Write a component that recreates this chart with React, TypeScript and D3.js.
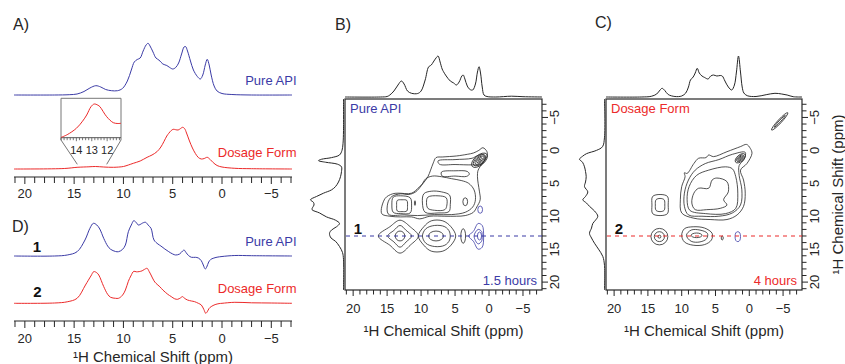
import React from "react";
import * as d3 from "d3";

type P = [number, number];
type Ell = { x: number; y: number; rx: number; ry: number; rot: number };

// ---------- tick labels ----------
const shiftMajor = [20, 15, 10, 5, 0, -5];
const shiftMinor = [21, 20, 19, 18, 17, 16, 15, 14, 13, 12, 11, 10, 9, 8, 7, 6, 5, 4, 3, 2, 1, 0, -1, -2, -3, -4, -5, -6, -7];
const insetMajor = [14, 13, 12];
const insetMinor = [15, 14.8, 14.6, 14.4, 14.2, 14, 13.8, 13.6, 13.4, 13.2, 13, 12.8, 12.6, 12.4, 12.2, 12, 11.8, 11.6, 11.4, 11.2];

// ---------- Panel A: 1D 1H spectra [ppm, intensity] ----------
const apiA: P[] = [[21.1,0],[17,0],[15.5,0.3],[14.7,1],[14.0,3.5],[13.4,7],[12.8,9.3],[12.3,8],[11.8,5.5],[11.2,4.3],[10.6,4.3],[10.1,6.5],[9.6,14],[9.2,25],[8.9,33],[8.6,35.5],[8.3,37],[8.0,44],[7.7,50],[7.5,51.7],[7.3,49],[7.0,43],[6.7,37],[6.4,35],[6.0,31],[5.6,29.5],[5.3,27.5],[5.0,26],[4.7,27.5],[4.4,32],[4.1,41],[3.85,48],[3.7,48.5],[3.5,44],[3.2,34],[2.9,25],[2.5,18.5],[2.2,16],[1.95,20],[1.7,30],[1.5,35.7],[1.3,30],[1.1,20],[0.8,9],[0.5,4],[0,1.5],[-1,0.5],[-3,0],[-7.1,0]];
const dosageA: P[] = [[21.1,0],[16,0.5],[14.7,1.7],[13.5,2.2],[12.85,2.5],[12,2],[11,1.7],[10,2.5],[9.5,4],[9,5.7],[8.3,8],[7.6,11.7],[7.1,14],[6.6,17.3],[6.2,22],[5.9,27.3],[5.6,33],[5.4,35.7],[5.15,38.5],[4.95,39.7],[4.7,39.3],[4.45,39],[4.2,40.5],[4.0,41.7],[3.8,40.5],[3.6,36],[3.3,28],[3.0,21],[2.7,15.5],[2.4,11.5],[2.1,10],[1.8,10.5],[1.5,11.7],[1.2,9.5],[0.9,6.5],[0.5,3.5],[0,2],[-1.3,0.7],[-3,0.3],[-7.1,0]];
const insetDosage: P[] = [[15,0.3],[14.6,3],[14.0,9.4],[13.6,16.5],[13.33,22.7],[13.05,31],[12.84,33.7],[12.6,32.5],[12.47,31],[12.03,21],[11.6,15],[11.3,14.2],[11.1,14.4]];

// ---------- Panel D: DQ slices ----------
const apiD: P[] = [[21.1,0],[17,0],[15.7,1],[14.7,4.3],[13.9,16],[13.4,27.7],[13.05,32.7],[12.7,31],[12.4,27],[12.0,17.7],[11.6,10],[11.3,6.7],[10.8,4.5],[10.5,4.3],[10.1,6.5],[9.8,11],[9.5,24.3],[9.2,31],[8.95,35.3],[8.7,33.5],[8.5,31],[8.3,31.5],[8.05,33],[7.75,33.7],[7.5,31],[7.2,27.7],[6.9,16],[6.5,12],[6.2,10],[5.8,7],[5.4,4.3],[5.0,2],[4.7,1],[4.3,2],[4.0,5],[3.85,6],[3.65,3.5],[3.4,0.5],[3.1,-1.3],[2.7,-1.3],[2.4,-2],[2.1,-4.7],[1.9,-9],[1.7,-13],[1.55,-11],[1.35,-6],[1.15,-3.5],[0.9,-2.3],[0.5,-1.2],[0,-0.5],[-1.3,0.5],[-3,0.3],[-7.1,0]];
const dosageD: P[] = [[21.1,0],[17,0.3],[15.7,1.5],[14.7,5],[13.85,18.3],[13.3,27.3],[13.0,31.7],[12.7,30.5],[12.5,28.3],[12.0,16.7],[11.6,9],[11.3,6],[10.8,5],[10.5,5],[10.1,8],[9.8,13.3],[9.5,22],[9.25,27.3],[8.95,32],[8.7,31.5],[8.4,31.7],[8.1,32.5],[7.85,34],[7.6,35],[7.4,32],[7.2,28.3],[6.9,22.5],[6.7,20],[6.3,16.5],[6.0,13.3],[5.5,9],[5.15,6.7],[4.8,4.5],[4.5,4],[4.2,5.5],[4.0,6.7],[3.8,5],[3.5,3.3],[3.1,2.3],[2.8,1.7],[2.4,0],[2.1,-1.7],[1.85,-6],[1.65,-10],[1.5,-8.5],[1.3,-5],[1.1,-3.3],[0.7,-1.3],[0.3,-0.3],[0,0],[-1.3,1],[-3,0.5],[-5,0.3],[-7.1,0]];

// ---------- Panels B/C: projections ----------
const projTopB: P[] = [[21.2,0],[16,0],[15,0.5],[14.6,2],[14,6],[13.4,12],[12.9,16],[12.5,13],[12,6],[11.4,3.7],[10.5,3.5],[10,6],[9.4,17],[8.9,30],[8.5,32],[8.2,35],[7.8,39],[7.5,41],[7.2,35],[6.9,28],[6.7,25.3],[6.3,21],[5.7,16],[5.2,14],[4.8,12],[4.4,15],[4.0,21],[3.8,22],[3.55,18],[3.2,11],[2.8,7.5],[2.4,7],[2.0,13],[1.7,25],[1.47,30.3],[1.25,24],[1.0,10],[0.74,2],[0.3,0.5],[-1,0],[-3.3,0.8],[-5,0.3],[-7.8,0]];
const projLeftB: P[] = [[-7.8,0],[-3,0],[-1,0.5],[0,1.5],[0.7,4],[1.1,12],[1.35,22],[1.56,25],[1.8,18],[2.1,6],[2.5,2],[3.2,2],[4.0,3],[4.8,5],[5.5,8],[6.0,12],[6.5,20],[7.0,27],[7.5,33],[7.9,30],[8.3,29.5],[8.7,31],[9.0,31.5],[9.5,24],[10.1,17],[10.6,8],[11.1,4],[11.6,7],[12.1,12],[12.6,14],[13.3,12.5],[13.8,8],[14.6,4],[15.5,1],[16.6,0],[21.2,0]];
const projTopC: P[] = [[21.2,0],[16,0],[14.5,0.7],[13.7,3],[13.2,7],[12.9,8.7],[12.5,6.5],[12,2.5],[11,0.5],[10,1],[9.4,4],[9.0,10],[8.7,17],[8.3,20],[8.0,24],[7.7,28.7],[7.4,24],[7.0,21],[6.6,19.5],[6.1,18],[5.7,21],[5.3,22],[4.8,21],[4.3,21.5],[4.0,21],[3.6,16],[3.1,10],[2.6,7],[2.2,12],[1.9,25],[1.6,41],[1.3,25],[1.05,10],[0.8,4],[0.3,1.3],[-1,0.5],[-2.5,2.3],[-3.8,3.7],[-4.8,3],[-5.6,2],[-6.5,0.3],[-7.8,0]];
const projLeftC: P[] = [[-7.8,0],[-2,0],[-0.56,2],[0,8],[0.5,18],[0.9,22],[1.35,25],[1.8,22],[2.5,20],[3.2,19],[4.0,18.3],[4.8,19],[5.5,20],[6.3,16.7],[7.0,19],[7.5,21.7],[8.0,18],[8.5,15],[9.2,10],[10.0,6.7],[10.6,9],[11.1,11.7],[11.8,13],[12.6,15],[13.3,13],[14.1,10],[15,6],[16.1,1.7],[17.5,0],[21.2,0]];

// ---------- Panel B contours [ppm F2, ppm F1] ----------
const contoursB: P[][] = [
  [[15.8,9.6],[15.3,7.3],[14.2,6.6],[13.4,6.5],[11.4,6.5],[10.3,5.6],[9.7,5.0],[9.0,4.0],[8.6,3.0],[8.2,1.9],[7.8,1.1],[6.8,1.0],[4.8,0.85],[3.2,0.6],[2.3,0.4],[1.5,0.0],[0.9,-0.4],[0.3,0.2],[0.3,0.9],[0.9,1.9],[1.6,3.0],[1.7,4.0],[1.6,5.0],[1.4,6.3],[1.3,7.5],[1.8,8.6],[2.3,9.4],[3.5,9.9],[4.8,10.0],[6.5,10.0],[8.7,10.0],[10.2,10.4],[11.4,10.1],[13.0,10.1],[14.6,10.0]],
  [[14.8,9.7],[14.9,8.0],[14.3,7.0],[13,6.6],[11.8,6.7],[10.8,6.3],[10.0,5.4],[9.3,4.3],[8.3,3.9],[7,4.0],[5.5,4.3],[4.0,4.6],[3.0,5.0],[2.2,6.0],[2.0,7.5],[2.4,8.6],[3.5,9.4],[5.5,9.75],[8,9.75],[10.5,9.9],[12.5,9.8]],
  [[7.0,3.3],[5.0,3.1],[3.2,3.2],[2.9,3.6],[3.3,3.95],[5.0,3.9],[6.9,3.9]],
  [[7.5,1.6],[5,1.4],[2.5,1.2],[1.7,0.8],[0.9,0.6],[0.6,1.3],[1.1,2.1],[2.5,2.2],[5,2.15],[7.3,2.1]],
  [[14.1,7.1],[13,6.9],[11.6,7.2],[11.4,8.3],[11.6,9.5],[13,9.6],[14.1,9.4],[14.3,8.3]],
  [[13.5,7.6],[12.8,7.5],[12.1,7.6],[12.0,8.5],[12.1,9.2],[12.8,9.3],[13.5,9.2],[13.6,8.4]],
  [[9.6,6.6],[8.5,6.2],[7.0,6.3],[5.8,6.8],[5.7,8.2],[5.9,9.3],[7.5,9.5],[9.4,9.4],[9.8,8.0]],
  [[9.0,7.1],[7.5,6.9],[6.3,7.2],[6.2,8.3],[6.5,9.0],[8,9.1],[9.0,8.8],[9.2,7.9]],
  [[16.3,13],[14.6,11.6],[13.1,10.6],[11.6,11.6],[10.4,13],[11.6,14.4],[13.1,15.6],[14.6,14.4]],
  [[14.9,13],[14.0,12.15],[13.1,11.4],[12.2,12.15],[11.4,13],[12.2,13.9],[13.1,14.7],[14.0,13.9]],
  [[10.4,13],[9.6,11.6],[8.5,10.7],[6.8,10.7],[5.6,11.6],[4.9,13],[5.6,14.4],[6.8,15.3],[8.5,15.3],[9.6,14.4]],
  [[9.8,13],[9.3,11.9],[8,11.4],[6.5,11.6],[5.8,12.4],[5.8,13.6],[6.5,14.4],[8,14.6],[9.3,14.1]],
];
const contoursBBlue: P[][] = [
  [[3.0,13],[2.3,12.3],[1.6,11.1],[1.0,11.4],[0.8,13],[1.0,14.7],[1.6,15.0],[2.3,13.8]],
  [[2.2,13],[1.6,12.0],[1.1,12.3],[1.0,13],[1.1,13.8],[1.6,14.2]],
];
const ellipsesB: Ell[] = [
  { x: 1.4, y: 1.5, rx: 1.4, ry: 0.75, rot: -40 },
  { x: 1.4, y: 1.5, rx: 1.1, ry: 0.58, rot: -40 },
  { x: 1.4, y: 1.5, rx: 0.8, ry: 0.42, rot: -40 },
  { x: 1.4, y: 1.5, rx: 0.5, ry: 0.27, rot: -40 },
  { x: 1.4, y: 1.5, rx: 0.22, ry: 0.12, rot: -40 },
  { x: 13.1, y: 13, rx: 0.7, ry: 0.75, rot: 0 },
  { x: 7.8, y: 13, rx: 1.1, ry: 0.75, rot: 0 },
  { x: 3.8, y: 13, rx: 0.35, ry: 1.1, rot: 0 },
  { x: 3.5, y: 7.8, rx: 0.35, ry: 0.6, rot: 0 },
  { x: 10.9, y: 8.0, rx: 0.08, ry: 0.35, rot: 0 },
];
const ellipsesBBlue: Ell[] = [
  { x: 1.4, y: 13, rx: 0.3, ry: 0.6, rot: 0 },
  { x: 1.3, y: 9.0, rx: 0.35, ry: 0.55, rot: 0 },
];

// ---------- Panel C contours ----------
const contoursC: P[][] = [
  [[-0.15,-0.3],[0.4,-0.9],[1.33,-0.56],[3.3,0.2],[5.3,0.95],[6.0,0.7],[6.4,1.1],[7.5,1.2],[8.2,2.0],[9.2,3.5],[9.6,3.4],[9.5,4.0],[10.0,5.5],[10.2,7.5],[10.0,9.5],[8.2,10.3],[5.8,10.5],[3.3,10.5],[1.8,9.8],[0.85,8.5],[0.6,6.5],[0.85,4.5],[1.3,3.0],[0.35,2.0],[-0.4,0.45]],
  [[0.6,0.3],[2.5,0.6],[4.5,1.4],[6.5,2.0],[8.0,3.0],[9.0,4.5],[9.6,6.5],[9.6,8.5],[9.0,9.8],[7.0,10.0],[4.5,10.0],[2.5,9.5],[1.3,8.3],[1.1,6.0],[1.5,3.8],[1.5,2.3],[0.8,1.4]],
  [[3.5,2.5],[6.0,3.0],[7.8,3.8],[8.9,5.5],[9.2,7.5],[8.8,9.1],[6.5,9.6],[3.5,9.6],[2.0,8.8],[1.7,6.5],[2.0,4.0],[2.5,2.8]],
  [[4.8,4.2],[3.3,4.75],[3.1,6.3],[3.8,7.5],[3.3,8.3],[4.3,8.8],[6.3,9.0],[8.0,9.0],[8.5,8.0],[8.2,6.5],[7.5,5.75],[6.0,5.75],[5.5,4.5]],
  [[14.3,7.0],[13.2,6.7],[12.1,7.0],[12.0,8.3],[12.1,9.6],[13.2,9.9],[14.3,9.6],[14.4,8.3]],
  [[13.8,7.5],[13.2,7.3],[12.6,7.5],[12.5,8.3],[12.6,9.1],[13.2,9.3],[13.8,9.1],[13.9,8.3]],
  [[10.0,12.9],[9.6,11.9],[8.3,11.6],[6.6,11.8],[5.5,12.6],[5.6,13.6],[6.6,14.3],[8.3,14.4],[9.6,13.9]],
  [[9.3,12.9],[8.6,12.1],[7.3,12.1],[6.2,12.6],[6.3,13.4],[7.3,13.9],[8.6,13.8]],
];
const ellipsesC: Ell[] = [
  { x: 1.33, y: 1.2, rx: 0.9, ry: 0.5, rot: -40 },
  { x: 1.33, y: 1.2, rx: 0.65, ry: 0.35, rot: -40 },
  { x: 1.33, y: 1.2, rx: 0.42, ry: 0.22, rot: -40 },
  { x: 1.33, y: 1.2, rx: 0.2, ry: 0.1, rot: -40 },
  { x: -4.5, y: -4.4, rx: 1.75, ry: 0.28, rot: -47 },
  { x: -4.5, y: -4.4, rx: 1.2, ry: 0.12, rot: -47 },
  { x: 13.3, y: 13.1, rx: 1.25, ry: 1.25, rot: 0 },
  { x: 13.3, y: 13.1, rx: 0.75, ry: 0.75, rot: 0 },
  { x: 13.3, y: 13.1, rx: 0.22, ry: 0.22, rot: 0 },
  { x: 7.8, y: 12.9, rx: 0.8, ry: 0.35, rot: 0 },
  { x: 4.0, y: 13.3, rx: 0.15, ry: 0.3, rot: 0 },
];
const ellipsesCBlue: Ell[] = [{ x: 1.7, y: 13.1, rx: 0.4, ry: 0.75, rot: 0 }];

const sliceShift = 13; // F1 position of the extracted rows

// ---------- style ----------
const FONT = "'Liberation Sans', Arial, Helvetica, sans-serif";
const BLUE = "#3b3ba6";
const RED = "#ec2a2a";
const INK = "#262626";
const fmt = (t: number) => (t < 0 ? "\u2212" + Math.abs(t) : String(t));

const curve1D = d3.curveCatmullRom.alpha(0.5);
const curveClosed = d3.curveCatmullRomClosed.alpha(0.5);

function HAxis({ x, y, x0, x1, labelY, tickLen = 6 }: any) {
  return (
    <g>
      <line x1={x0} x2={x1} y1={y} y2={y} stroke={INK} strokeWidth={1.2} />
      {shiftMinor.map((t) => (
        <line key={t} x1={x(t)} x2={x(t)} y1={y} y2={y + (shiftMajor.includes(t) ? tickLen + 1 : tickLen)} stroke={INK} strokeWidth={1} />
      ))}
      {shiftMajor.map((t) => (
        <text key={t} x={x(t)} y={labelY} textAnchor="middle" fontSize={13} fill={INK}>
          {fmt(t)}
        </text>
      ))}
    </g>
  );
}

function TwoD({ x, y, left, right, top, bottom, projTop, projLeft, contours, contoursBlue, ellipses, ellipsesBlue, sliceColor, sliceLabel, nameLabel, nameColor, timeLabel, showTitle }: any) {
  const topY = d3.scaleLinear().domain([0, 40]).range([top - 2, top - 42]);
  const leftX = d3.scaleLinear().domain([0, 30]).range([left - 1.5, left - 31.5]);
  const topPath = d3.line<P>().x((d) => x(d[0])).y((d) => topY(d[1])).curve(curve1D)(projTop) || "";
  const leftPath = d3.line<P>().x((d) => leftX(d[1])).y((d) => y(d[0])).curve(curve1D)(projLeft) || "";
  const cPath = d3.line<P>().x((d) => x(d[0])).y((d) => y(d[1])).curve(curveClosed);
  const pxX = Math.abs(x(1) - x(0));
  const pxY = Math.abs(y(1) - y(0));
  const ell = (e: Ell, i: number, color: string) => (
    <ellipse key={i} cx={x(e.x)} cy={y(e.y)} rx={e.rx * pxX} ry={e.ry * pxY} fill="none" stroke={color} strokeWidth={0.8}
      transform={`rotate(${e.rot},${x(e.x)},${y(e.y)})`} />
  );
  return (
    <g>
      <path d={topPath} fill="none" stroke={INK} strokeWidth={1} />
      <path d={leftPath} fill="none" stroke={INK} strokeWidth={1} />
      <rect x={left} y={top} width={right - left} height={bottom - top} fill="none" stroke={INK} strokeWidth={1.2} />
      {contours.map((c: P[], i: number) => (
        <path key={i} d={cPath(c) || ""} fill="none" stroke={INK} strokeWidth={0.8} />
      ))}
      {contoursBlue.map((c: P[], i: number) => (
        <path key={i} d={cPath(c) || ""} fill="none" stroke={BLUE} strokeWidth={0.8} />
      ))}
      {ellipses.map((e: Ell, i: number) => ell(e, i, INK))}
      {ellipsesBlue.map((e: Ell, i: number) => ell(e, i, BLUE))}
      <line x1={left + 1} x2={right} y1={y(sliceShift)} y2={y(sliceShift)} stroke={sliceColor} strokeWidth={1.2} strokeDasharray="4,4" />
      <text x={left + 13} y={y(sliceShift) - 2} textAnchor="middle" fontSize={15} fontWeight="bold" fill="#111">{sliceLabel}</text>
      <text x={left + 5} y={top + 14} fontSize={13} fill={nameColor}>{nameLabel}</text>
      <text x={right - 5} y={bottom - 5} textAnchor="end" fontSize={13} fill={nameColor}>{timeLabel}</text>
      {/* bottom axis */}
      {shiftMinor.map((t) => (
        <line key={t} x1={x(t)} x2={x(t)} y1={bottom} y2={bottom + (shiftMajor.includes(t) ? 6 : 4.5)} stroke={INK} strokeWidth={1} />
      ))}
      {shiftMajor.map((t) => (
        <text key={t} x={x(t)} y={bottom + 23} textAnchor="middle" fontSize={13} fill={INK}>{fmt(t)}</text>
      ))}
      <text x={(left + right) / 2} y={336} textAnchor="middle" fontSize={15} fill={INK}>¹H Chemical Shift (ppm)</text>
      {/* right axis */}
      {shiftMinor.map((t) => (
        <line key={t} x1={right} x2={right + (shiftMajor.includes(t) ? 6 : 4.5)} y1={y(t)} y2={y(t)} stroke={INK} strokeWidth={1} />
      ))}
      {shiftMajor.map((t) => (
        <text key={t} x={right + 17} y={y(t)} textAnchor="middle" fontSize={13} fill={INK} transform={`rotate(-90,${right + 17},${y(t)})`}>{fmt(t)}</text>
      ))}
      {showTitle && (
        <text x={843} y={(top + bottom) / 2} textAnchor="middle" fontSize={15} fill={INK} transform={`rotate(-90,843,${(top + bottom) / 2})`}>¹H Chemical Shift (ppm)</text>
      )}
    </g>
  );
}

export default function App() {
  // Panel A / D shared scale
  const xA = d3.scaleLinear().domain([21.1, -7.1]).range([14, 292]);
  const trace = (data: P[], base: number) => {
    const yS = d3.scaleLinear().domain([0, 50]).range([base, base - 50]);
    return d3.line<P>().x((d) => xA(d[0])).y((d) => yS(d[1])).curve(curve1D)(data) || "";
  };
  // inset
  const xIn = d3.scaleLinear().domain([15, 11.1]).range([61, 121]);
  const yIn = d3.scaleLinear().domain([0, 34]).range([137.7, 103.7]);
  const insetPath = d3.line<P>().x((d) => xIn(d[0])).y((d) => yIn(d[1])).curve(curve1D)(insetDosage) || "";

  // 2D panels
  const yF1 = d3.scaleLinear().domain([-7.8, 21.2]).range([99, 290]);
  const xB = d3.scaleLinear().domain([21.2, -7.8]).range([345, 542]);
  const xC = d3.scaleLinear().domain([21.2, -7.8]).range([606, 802]);

  return (
    <svg width={845} height={364} viewBox="0 0 845 364" style={{ position: "absolute", left: 0, top: 0, background: "#fff", fontFamily: FONT }}>
      <rect width={845} height={364} fill="#fff" />
      {/* Panel labels */}
      <text x={13} y={30} fontSize={16} fill={INK}>A)</text>
      <text x={335} y={30} fontSize={16} fill={INK}>B)</text>
      <text x={595} y={28} fontSize={16} fill={INK}>C)</text>
      <text x={12} y={232} fontSize={16} fill={INK}>D)</text>

      {/* Panel A */}
      <path d={trace(apiA, 95)} fill="none" stroke={BLUE} strokeWidth={1} />
      <path d={trace(dosageA, 169)} fill="none" stroke={RED} strokeWidth={1} />
      <text x={296.5} y={85} textAnchor="end" fontSize={13} fill={BLUE}>Pure API</text>
      <text x={296.5} y={156.7} textAnchor="end" fontSize={13} fill={RED}>Dosage Form</text>

      {/* inset */}
      <g>
        <polyline points={`61,140 61,98.3 121,98.3 121,140`} fill="none" stroke="#777" strokeWidth={1} />
        <line x1={61} x2={77.3} y1={140} y2={164.3} stroke="#777" strokeWidth={1} />
        <line x1={121} x2={106.7} y1={140} y2={164.3} stroke="#777" strokeWidth={1} />
        <line x1={61} x2={121} y1={137.7} y2={137.7} stroke="#555" strokeWidth={1} />
        {insetMinor.map((t) => (
          <line key={t} x1={xIn(t)} x2={xIn(t)} y1={137.7} y2={137.7 + (insetMajor.includes(t) ? 3.5 : 2.5)} stroke="#555" strokeWidth={0.8} />
        ))}
        {insetMajor.map((t) => (
          <text key={t} x={xIn(t)} y={153.5} textAnchor="middle" fontSize={11} fill={INK}>{t}</text>
        ))}
        <path d={insetPath} fill="none" stroke={RED} strokeWidth={1} />
      </g>

      {/* shared axis between A and D */}
      <HAxis x={xA} y={177} x0={14} x1={292} labelY={197.5} />

      {/* Panel D */}
      <path d={trace(apiD, 256)} fill="none" stroke={BLUE} strokeWidth={1} />
      <path d={trace(dosageD, 303.3)} fill="none" stroke={RED} strokeWidth={1} />
      <text x={37} y={252} textAnchor="middle" fontSize={15} fontWeight="bold" fill="#111">1</text>
      <text x={37.5} y={297} textAnchor="middle" fontSize={15} fontWeight="bold" fill="#111">2</text>
      <text x={296.5} y={246} textAnchor="end" fontSize={13} fill={BLUE}>Pure API</text>
      <text x={296.5} y={292.5} textAnchor="end" fontSize={13} fill={RED}>Dosage Form</text>
      <HAxis x={xA} y={321} x0={14} x1={292} labelY={343} />
      <text x={153} y={362} textAnchor="middle" fontSize={15} fill={INK}>¹H Chemical Shift (ppm)</text>

      {/* Panel B */}
      <TwoD x={xB} y={yF1} left={345} right={542} top={99} bottom={290}
        projTop={projTopB} projLeft={projLeftB} contours={contoursB} contoursBlue={contoursBBlue}
        ellipses={ellipsesB} ellipsesBlue={ellipsesBBlue} sliceColor={BLUE} sliceLabel="1"
        nameLabel="Pure API" nameColor={BLUE} timeLabel="1.5 hours" showTitle={false} />

      {/* Panel C */}
      <TwoD x={xC} y={yF1} left={606} right={802} top={99} bottom={290}
        projTop={projTopC} projLeft={projLeftC} contours={contoursC} contoursBlue={[]}
        ellipses={ellipsesC} ellipsesBlue={ellipsesCBlue} sliceColor={RED} sliceLabel="2"
        nameLabel="Dosage Form" nameColor={RED} timeLabel="4 hours" showTitle={true} />
    </svg>
  );
}
